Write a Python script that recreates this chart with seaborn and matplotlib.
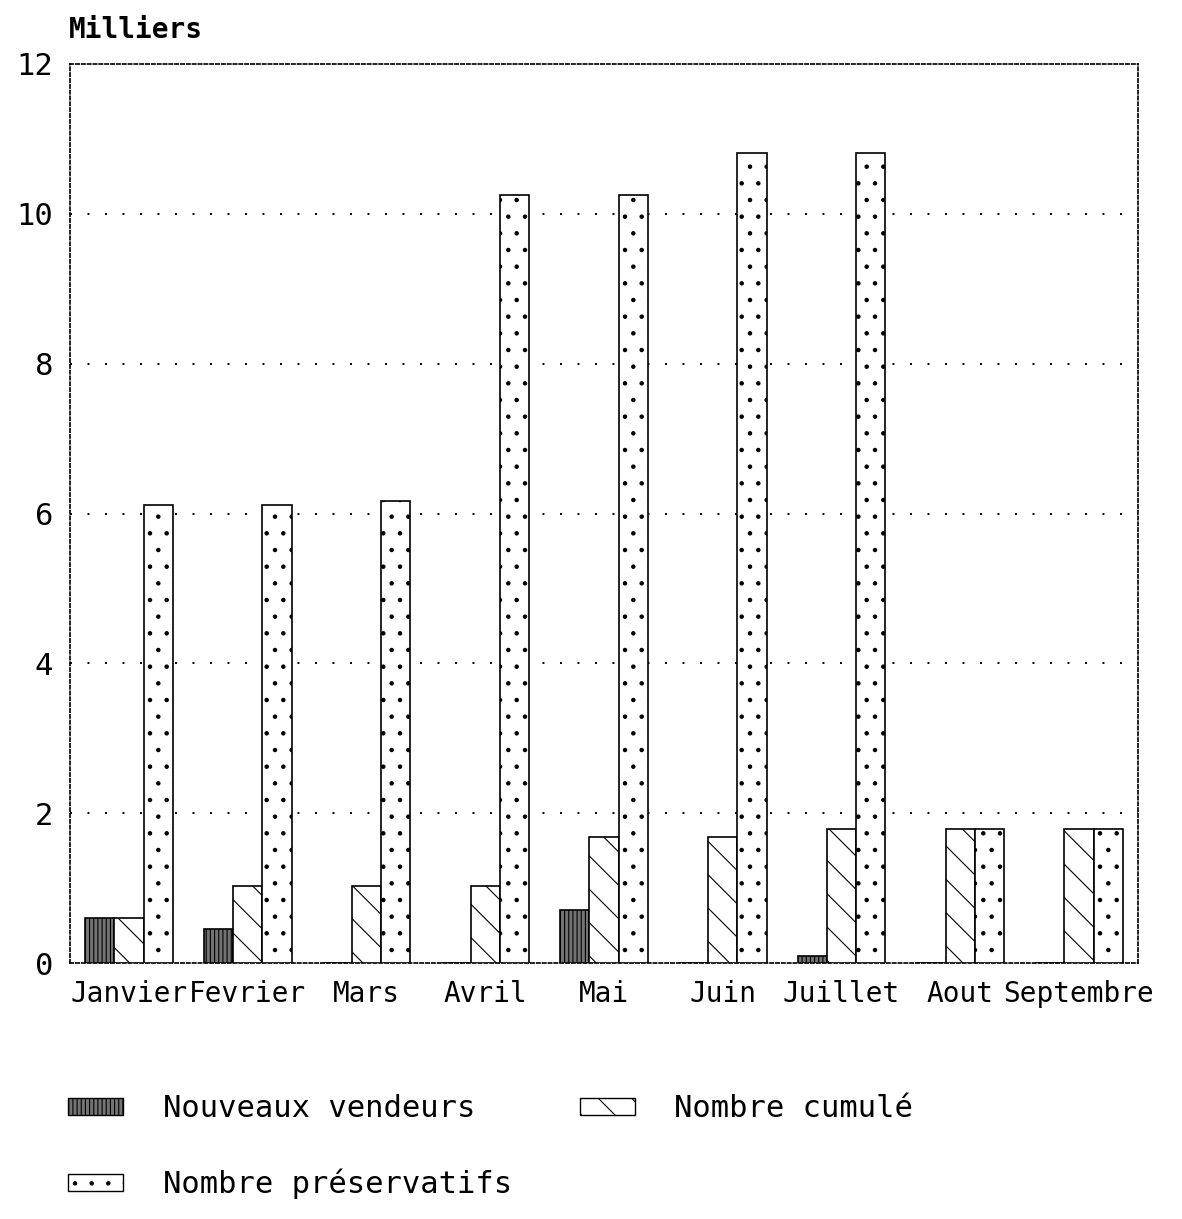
import pandas as pd
import matplotlib
matplotlib.use('Agg')
import matplotlib.pyplot as plt
import seaborn as sns
from matplotlib.patches import Patch

# valeurs (en milliers)
mois = ['Janvier', 'Fevrier', 'Mars', 'Avril', 'Mai', 'Juin', 'Juillet', 'Aout', 'Septembre']
nouveaux_vendeurs = [0.60, 0.45, 0.0, 0.0, 0.71, 0.0, 0.09, 0.0, 0.0]
nombre_cumule = [0.60, 1.03, 1.03, 1.03, 1.68, 1.68, 1.79, 1.79, 1.79]
nombre_preservatifs = [6.11, 6.11, 6.17, 10.25, 10.25, 10.81, 10.81, 1.79, 1.79]
series = ['Nouveaux vendeurs', 'Nombre cumulé', 'Nombre préservatifs']
y_ticks = [0, 2, 4, 6, 8, 10, 12]

df = pd.DataFrame({
    'mois': mois * 3,
    'serie': [s for s in series for _ in mois],
    'valeur': nouveaux_vendeurs + nombre_cumule + nombre_preservatifs,
})

sns.set_style('white')
plt.rcParams['font.family'] = ['DejaVu Sans Mono']
plt.rcParams['text.color'] = 'black'
plt.rcParams['xtick.color'] = 'black'
plt.rcParams['ytick.color'] = 'black'
plt.rcParams['hatch.linewidth'] = 0.8
plt.rcParams['hatch.color'] = 'black'

fig = plt.figure(figsize=(11.82, 12.19), dpi=100)
ax = fig.add_axes([0.059, 0.21, 0.904, 0.7375])

hachures = ['||||', '\\', '.']
remplissage = ['0.45', 'white', 'white']
sns.barplot(data=df, x='mois', y='valeur', hue='serie', order=mois, hue_order=series,
            palette=['white'] * 3, edgecolor='black', linewidth=1.2, width=0.74,
            legend=False, ax=ax, zorder=3)
for cont, h, fc in zip(ax.containers, hachures, remplissage):
    for bar in cont:
        bar.set_hatch(h)
        bar.set_facecolor(fc)
        bar.set_edgecolor('black')

ax.set_ylim(0, 12)
ax.set_yticks(y_ticks)
ax.set_yticklabels([str(t) for t in y_ticks], fontsize=22)
ax.tick_params(axis='x', labelsize=20, length=0, pad=12)
ax.tick_params(axis='y', length=0, pad=12)
ax.set_xlabel('')
ax.set_ylabel('')

for y in y_ticks[1:-1]:
    ax.axhline(y, color='black', linestyle=(0, (1, 8)), linewidth=1.4, zorder=1)

for side in ['top', 'bottom', 'left', 'right']:
    ax.spines[side].set_visible(True)
    ax.spines[side].set_color('black')
    ax.spines[side].set_linewidth(1.2)
    ax.spines[side].set_linestyle((0, (2, 1.5)))

fig.text(0.058, 0.975, 'Milliers', fontsize=20, fontweight='bold', va='center', ha='left')

handles = [Patch(facecolor=fc, edgecolor='black', hatch=h)
           for h, fc in zip(hachures, remplissage)]
# ordre pour obtenir : ligne 1 -> vendeurs, cumulé ; ligne 2 -> préservatifs
order = [0, 2, 1]
fig.legend([handles[i] for i in order], [series[i] for i in order],
           loc='upper left', bbox_to_anchor=(0.045, 0.115), ncol=2, frameon=False,
           fontsize=22, handlelength=1.8, handleheight=0.5, handletextpad=1.3,
           columnspacing=2.2, labelspacing=1.5, borderpad=0)

fig.savefig('out.png', dpi=100, facecolor='white')
